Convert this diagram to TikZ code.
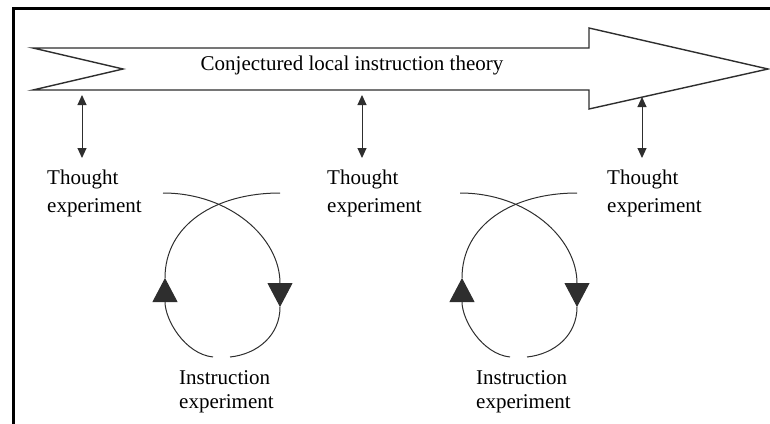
\documentclass[tikz,border=0pt]{standalone}
\usepackage{fontspec}
\setmainfont{Liberation Serif}
\usetikzlibrary{arrows.meta,positioning}
\definecolor{linegray}{HTML}{2E2E2E}

\begin{document}
\begin{tikzpicture}[
    x=1pt, y=-1pt,
    bigarrow/.style={
        draw=linegray,
        line width=1.4pt,
        fill=white
    },
    caption/.style={font=\fontsize{21}{24}\selectfont, align=left, inner sep=0pt},
    link/.style={{Triangle[length=10pt,width=9pt]}-{Triangle[length=10pt,width=9pt]}, line width=1pt, draw=linegray},
    loopline/.style={line width=1pt, draw=linegray},
    looptip/.style={-{Triangle[length=24pt,width=25pt]}}
]
    \useasboundingbox (0,0) rectangle (770,423);
    \clip (0,0) rectangle (770,423);
    \draw[line width=3pt] (13.5,8.5) rectangle (800,450);

    % the theory arrow
    \draw[bigarrow] (33,48) -- (589,48) -- (589,28) -- (768,69) -- (589,109)
        -- (589,90) -- (33,90) -- (123,69) -- cycle;
    \node[caption, anchor=base] (theory) at (352,70) {Conjectured local instruction theory};

    \coordinate (t1) at (82,95);
    \coordinate (t2) at (362,95);
    \coordinate (t3) at (642,97);

    \node[caption, anchor=north west] (thought1) at (47,170) {Thought\\[3.5pt]experiment};
    \node[caption, anchor=north west] (thought2) at (327,170) {Thought\\[3.5pt]experiment};
    \node[caption, anchor=north west] (thought3) at (607,170) {Thought\\[3.5pt]experiment};

    \draw[link] (t1) -- ([yshift=12pt]thought1.north -| t1);
    \draw[link] (t2) -- ([yshift=12pt]thought2.north -| t2);
    \draw[link] (t3) -- ([yshift=12pt]thought3.north -| t3);

    % instruction cycles
    \foreach \dx/\n in {0/1,297/2}{
        \begin{scope}[xshift=\dx pt]
            \draw[loopline, looptip] (163,193) .. controls (230,193) and (280,238) .. (280,307);
            \draw[loopline] (280,307) .. controls (280,335) and (258,354) .. (230,357);
            \draw[loopline, looptip] (213,357) .. controls (185,354) and (165,320) .. (165,278);
            \draw[loopline] (165,278) .. controls (165,225) and (215,193) .. (280,193);
        \end{scope}
        \node[caption, anchor=north west] (instr\n) at (179+\dx,370) {Instruction\\experiment};
    }
\end{tikzpicture}
\end{document}
